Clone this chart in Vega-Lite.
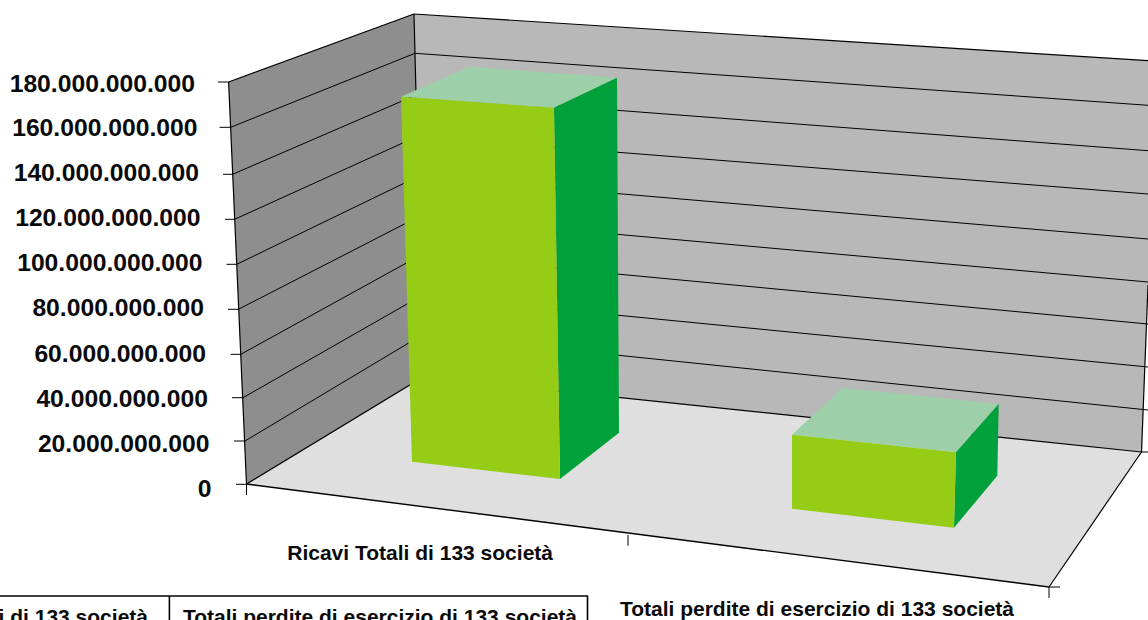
{
"$schema":"https://vega.github.io/schema/vega-lite/v6.json",
"width":1148,"height":620,"padding":0,
"autosize":{"type":"fit","contains":"padding"},
"background":"white",
"config":{"view":{"stroke":null}},
"datasets":{
"planes":[
{"face":"left wall","i":0,"x":228.6,"y":82},{"face":"left wall","i":1,"x":414,"y":14},{"face":"left wall","i":2,"x":423,"y":377},{"face":"left wall","i":3,"x":246.5,"y":484},
{"face":"back wall","i":0,"x":414,"y":14},{"face":"back wall","i":1,"x":1148,"y":60.7},{"face":"back wall","i":2,"x":1148,"y":285},{"face":"back wall","i":3,"x":1141.5,"y":452},{"face":"back wall","i":4,"x":423,"y":377},
{"face":"floor","i":0,"x":246.5,"y":484},{"face":"floor","i":1,"x":423,"y":377},{"face":"floor","i":2,"x":1141.5,"y":452},{"face":"floor","i":3,"x":1049,"y":587}
],
"lines":[
{"kind":"grid","x":230.6,"y":127.3,"x2":415,"y2":53.3},{"kind":"grid","x":415,"y":53.3,"x2":1148,"y2":105.3},
{"kind":"grid","x":232.6,"y":174.3,"x2":416,"y2":95},{"kind":"grid","x":416,"y":95,"x2":1148,"y2":150.7},
{"kind":"grid","x":234.7,"y":219.3,"x2":417,"y2":136.5},{"kind":"grid","x":417,"y":136.5,"x2":1148,"y2":194},
{"kind":"grid","x":236.7,"y":264.3,"x2":418,"y2":176.5},{"kind":"grid","x":418,"y":176.5,"x2":1148,"y2":239},
{"kind":"grid","x":238.4,"y":309.3,"x2":419,"y2":216.5},{"kind":"grid","x":419,"y":216.5,"x2":1148,"y2":282},
{"kind":"grid","x":240.8,"y":354.3,"x2":420,"y2":255.5},{"kind":"grid","x":420,"y":255.5,"x2":1148,"y2":324},
{"kind":"grid","x":243,"y":397.7,"x2":421,"y2":296},{"kind":"grid","x":421,"y":296,"x2":1148,"y2":367},
{"kind":"grid","x":245,"y":441,"x2":422,"y2":335},{"kind":"grid","x":422,"y":335,"x2":1148,"y2":410},
{"kind":"edge","x":228.6,"y":82,"x2":414,"y2":14},{"kind":"edge","x":414,"y":14,"x2":1148,"y2":60.7},
{"kind":"edge","x":228.6,"y":82,"x2":246.5,"y2":484},{"kind":"edge","x":414,"y":14,"x2":423,"y2":377},
{"kind":"edge","x":1148,"y":285,"x2":1141.5,"y2":452},{"kind":"edge","x":423,"y":377,"x2":1141.5,"y2":452},
{"kind":"heavy","x":246.5,"y":484,"x2":423,"y2":377},{"kind":"heavy","x":246.5,"y":484,"x2":1049,"y2":587},
{"kind":"edge","x":1049,"y":587,"x2":1141.5,"y2":452},
{"kind":"grid","x":218,"y":82,"x2":228.6,"y2":82},{"kind":"grid","x":219.6,"y":127.3,"x2":230.6,"y2":127.3},
{"kind":"grid","x":223,"y":174.3,"x2":232.6,"y2":174.3},{"kind":"grid","x":225,"y":219.3,"x2":234.7,"y2":219.3},
{"kind":"grid","x":226.5,"y":264.3,"x2":236.7,"y2":264.3},{"kind":"grid","x":228,"y":309.3,"x2":238.4,"y2":309.3},
{"kind":"grid","x":230.6,"y":354.3,"x2":240.8,"y2":354.3},{"kind":"grid","x":232,"y":397.7,"x2":243,"y2":397.7},
{"kind":"grid","x":234,"y":441,"x2":245,"y2":441},{"kind":"grid","x":236,"y":484.3,"x2":246.5,"y2":484.3},
{"kind":"grid","x":246.5,"y":484,"x2":246.5,"y2":495},{"kind":"grid","x":628,"y":535,"x2":628,"y2":545.7},
{"kind":"grid","x":1049,"y":587,"x2":1049,"y2":598},{"kind":"grid","x":1049,"y":587,"x2":1060,"y2":587},
{"kind":"grid","x":1141.5,"y":452,"x2":1148,"y2":452}
],
"bars":[
{"bar":"Ricavi top","face":"top","i":0,"x":401,"y":96.7},{"bar":"Ricavi top","face":"top","i":1,"x":469,"y":66.7},{"bar":"Ricavi top","face":"top","i":2,"x":617,"y":77.7},{"bar":"Ricavi top","face":"top","i":3,"x":554,"y":107.7},
{"bar":"Ricavi side","face":"side","i":0,"x":554,"y":107.7},{"bar":"Ricavi side","face":"side","i":1,"x":617,"y":77.7},{"bar":"Ricavi side","face":"side","i":2,"x":619,"y":432.7},{"bar":"Ricavi side","face":"side","i":3,"x":560,"y":479},
{"bar":"Ricavi front","face":"front","i":0,"x":401,"y":96.7},{"bar":"Ricavi front","face":"front","i":1,"x":554,"y":107.7},{"bar":"Ricavi front","face":"front","i":2,"x":560,"y":479},{"bar":"Ricavi front","face":"front","i":3,"x":412,"y":461.7},
{"bar":"Perdite top","face":"top","i":0,"x":792,"y":434.7},{"bar":"Perdite top","face":"top","i":1,"x":842.7,"y":387.7},{"bar":"Perdite top","face":"top","i":2,"x":998.7,"y":404},{"bar":"Perdite top","face":"top","i":3,"x":956,"y":452.3},
{"bar":"Perdite side","face":"side","i":0,"x":956,"y":452.3},{"bar":"Perdite side","face":"side","i":1,"x":998.7,"y":404},{"bar":"Perdite side","face":"side","i":2,"x":997.3,"y":475.7},{"bar":"Perdite side","face":"side","i":3,"x":954,"y":527.7},
{"bar":"Perdite front","face":"front","i":0,"x":792,"y":434.7},{"bar":"Perdite front","face":"front","i":1,"x":956,"y":452.3},{"bar":"Perdite front","face":"front","i":2,"x":954,"y":527.7},{"bar":"Perdite front","face":"front","i":3,"x":792,"y":508.7}
],
"ticks":[
{"label":"180.000.000.000","x":195,"y":83},{"label":"160.000.000.000","x":197.5,"y":127.5},
{"label":"140.000.000.000","x":199,"y":172.7},{"label":"120.000.000.000","x":200.5,"y":217.7},
{"label":"100.000.000.000","x":202.5,"y":262.7},{"label":"80.000.000.000","x":204,"y":307.7},
{"label":"60.000.000.000","x":206,"y":353.3},{"label":"40.000.000.000","x":208,"y":398.3},
{"label":"20.000.000.000","x":209.5,"y":443.3},{"label":"0","x":211.5,"y":488.3}
],
"cats":[
{"label":"Ricavi Totali di 133 società","x":553,"y":560},
{"label":"Totali perdite di esercizio di 133 società","x":1014,"y":616},
{"label":"Ricavi Totali di 133 società","x":148,"y":624},
{"label":"Totali perdite di esercizio di 133 società","x":577,"y":624}
],
"table":[
{"x":0,"y":596,"x2":588,"y2":596},{"x":169.4,"y":596,"x2":169.4,"y2":620},{"x":587.5,"y":596,"x2":587.5,"y2":620}
]
},
"encoding":{
"x":{"field":"x","type":"quantitative","axis":null,"scale":{"domain":[0,1148],"nice":false,"zero":false}},
"y":{"field":"y","type":"quantitative","axis":null,"scale":{"domain":[0,620],"nice":false,"zero":false,"reverse":true}}
},
"layer":[
{"data":{"name":"planes"},"mark":{"type":"line","strokeWidth":0,"clip":true},
"encoding":{"order":{"field":"i"},"detail":{"field":"face"},
"fill":{"field":"face","type":"nominal","legend":null,"scale":{"domain":["left wall","back wall","floor","top","side","front"],"range":["#8e8e8e","#b8b8b8","#dfdfdf","#9dd0a8","#00a03a","#94cc16"]}}}},
{"data":{"name":"lines"},"mark":{"type":"rule","color":"black","clip":true},
"encoding":{"x2":{"field":"x2"},"y2":{"field":"y2"},
"strokeWidth":{"field":"kind","type":"nominal","legend":null,"scale":{"domain":["grid","edge","heavy"],"range":[1,1.4,2]}}}},
{"data":{"name":"bars"},"mark":{"type":"line","strokeWidth":0,"clip":true},
"encoding":{"order":{"field":"i"},"detail":{"field":"bar"},
"fill":{"field":"face","type":"nominal","legend":null,"scale":{"domain":["left wall","back wall","floor","top","side","front"],"range":["#8e8e8e","#b8b8b8","#dfdfdf","#9dd0a8","#00a03a","#94cc16"]}}}},
{"data":{"name":"ticks"},"mark":{"type":"text","align":"right","baseline":"middle","dy":1.5,"font":"Liberation Sans","fontWeight":"bold","fontSize":24.7,"color":"#0a0a0a"},
"encoding":{"text":{"field":"label"}}},
{"data":{"name":"cats"},"mark":{"type":"text","align":"right","baseline":"alphabetic","font":"Liberation Sans","fontWeight":"bold","fontSize":21,"color":"#0a0a0a","clip":true},
"encoding":{"text":{"field":"label"}}},
{"data":{"name":"table"},"mark":{"type":"rule","color":"black","strokeWidth":1.6,"clip":true},
"encoding":{"x2":{"field":"x2"},"y2":{"field":"y2"}}}
]
}
